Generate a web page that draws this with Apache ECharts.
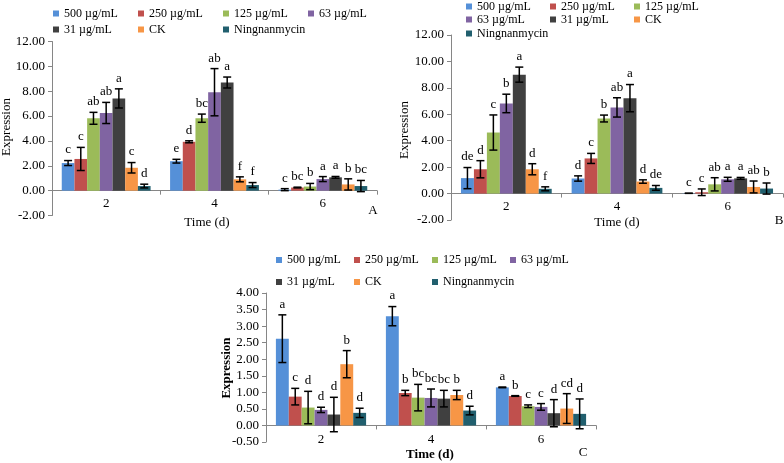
<!DOCTYPE html>
<html><head><meta charset="utf-8">
<script src="https://cdn.jsdelivr.net/npm/echarts@6/dist/echarts.min.js"></script>
<style>html,body{margin:0;padding:0;background:#fff}#c{width:784px;height:463px}</style>
</head><body><div id="c"></div>
<script>
// ---- data ----
const categories = ['2', '4', '6'];
const seriesNames = ['500 µg/mL', '250 µg/mL', '125 µg/mL', '63 µg/mL', '31 µg/mL', 'CK', 'Ningnanmycin'];
const colors = ['#5590D8', '#C0504D', '#9BBB59', '#8064A2', '#404040', '#F79646', '#215F6E'];

// Panel A: one row per series, values at day 2, 4, 6
const valuesA = [
  [2.22, 2.37, 0.08],
  [2.55, 3.93, 0.25],
  [5.82, 5.83, 0.33],
  [6.25, 7.92, 0.93],
  [7.42, 8.70, 1.07],
  [1.84, 0.91, 0.50],
  [0.37, 0.45, 0.37]
];
const errorsA = [
  [0.20, 0.15, 0.08],
  [0.93, 0.08, 0.03],
  [0.48, 0.33, 0.25],
  [0.85, 1.90, 0.20],
  [0.77, 0.44, 0.07],
  [0.42, 0.20, 0.45],
  [0.15, 0.20, 0.45]
];
const lettersA = [
  ['c', 'e', 'c'],
  ['c', 'd', 'bc'],
  ['ab', 'bc', 'b'],
  ['ab', 'ab', 'a'],
  ['a', 'a', 'a'],
  ['c', 'f', 'b'],
  ['d', 'f', 'bc']
];

// Panel B
const valuesB = [
  [1.17, 1.14, 0.02],
  [1.84, 2.66, 0.10],
  [4.62, 5.68, 0.70],
  [6.82, 6.52, 1.08],
  [9.00, 7.22, 1.15],
  [1.84, 0.91, 0.50],
  [0.36, 0.43, 0.38]
];
const errorsB = [
  [0.80, 0.20, 0.00],
  [0.65, 0.38, 0.25],
  [1.33, 0.26, 0.50],
  [0.70, 0.73, 0.15],
  [0.57, 1.03, 0.07],
  [0.42, 0.13, 0.45],
  [0.15, 0.18, 0.42]
];
const lettersB = [
  ['de', 'd', 'c'],
  ['d', 'c', 'c'],
  ['c', 'b', 'ab'],
  ['b', 'ab', 'a'],
  ['a', 'a', 'a'],
  ['d', 'd', 'ab'],
  ['f', 'de', 'b']
];

// Panel C
const valuesC = [
  [2.62, 3.30, 1.15],
  [0.87, 0.98, 0.89],
  [0.54, 0.84, 0.58],
  [0.47, 0.83, 0.56],
  [0.33, 0.81, 0.37],
  [1.85, 0.92, 0.51],
  [0.38, 0.45, 0.35]
];
const errorsC = [
  [0.72, 0.29, 0.01],
  [0.25, 0.08, 0.01],
  [0.49, 0.40, 0.04],
  [0.08, 0.27, 0.10],
  [0.52, 0.25, 0.41],
  [0.41, 0.14, 0.45],
  [0.14, 0.13, 0.45]
];
const lettersC = [
  ['a', 'a', 'a'],
  ['c', 'b', 'b'],
  ['d', 'bc', 'c'],
  ['d', 'bc', 'c'],
  ['d', 'bc', 'd'],
  ['b', 'b', 'cd'],
  ['d', 'd', 'd']
];

const yRangeAB = [-2, 12, 2];
const yRangeC = [-0.5, 4, 0.5];

// ---- chart ----
const FONT = '"Liberation Serif", "Times New Roman", serif';
const GAP = 0.18;
const series = [];

function addPanel(idx, vals, errs, lets) {
  vals.forEach((row, s) => {
    series.push({
      type: 'bar', name: seriesNames[s], xAxisIndex: idx, yAxisIndex: idx,
      data: row, barGap: '0%', barCategoryGap: (GAP * 100) + '%',
      itemStyle: { color: colors[s] }, silent: true
    });
  });
  const data = [];
  vals.forEach((row, s) => row.forEach((v, c) => data.push([c, s, v, errs[s][c]])));
  series.push({
    type: 'custom', name: 'err' + idx, xAxisIndex: idx, yAxisIndex: idx, z: 10,
    encode: { x: 0, y: 2 }, data: data, silent: true,
    renderItem: function (params, api) {
      const c = api.value(0), s = api.value(1), v = api.value(2), e = api.value(3);
      const band = api.size([1, 0])[0];
      const bw = band * (1 - GAP) / 7;
      const base = api.coord([c, v]);
      const x = base[0] + (s - 3) * bw;
      const yT = api.coord([c, v + e])[1];
      const yB = api.coord([c, v - e])[1];
      const st = { stroke: '#000', lineWidth: 1.5 };
      const cap = 4;
      return {
        type: 'group', children: [
          { type: 'line', shape: { x1: x, y1: yT, x2: x, y2: yB }, style: st },
          { type: 'line', shape: { x1: x - cap, y1: yT, x2: x + cap, y2: yT }, style: st },
          { type: 'line', shape: { x1: x - cap, y1: yB, x2: x + cap, y2: yB }, style: st },
          { type: 'text', style: { text: lets[s][c], x: x, y: yT - 4, align: 'center', verticalAlign: 'bottom',
              font: '13px ' + FONT, fill: '#000' } }
        ]
      };
    }
  });
}
addPanel(0, valuesA, errorsA, lettersA);
addPanel(1, valuesB, errorsB, lettersB);
addPanel(2, valuesC, errorsC, lettersC);

const axisLineStyle = { lineStyle: { color: '#868686', width: 1 } };
function xAxis(idx, margin) {
  return {
    type: 'category', gridIndex: idx, data: categories,
    axisLine: axisLineStyle, axisTick: { show: true, length: 4, lineStyle: { color: '#868686' } },
    axisLabel: { color: '#000', fontFamily: FONT, fontSize: 13, margin: margin }
  };
}
function yAxis(idx, r) {
  return {
    type: 'value', gridIndex: idx, min: r[0], max: r[1], interval: r[2],
    splitLine: { show: false },
    axisLine: Object.assign({ show: true }, axisLineStyle),
    axisTick: { show: true, length: 4, lineStyle: { color: '#868686' } },
    axisLabel: { color: '#000', fontFamily: FONT, fontSize: 13, margin: 7,
      formatter: v => v.toFixed(2) }
  };
}
function legend(names, left, top, w) {
  return {
    data: names, left: left, top: top, orient: 'horizontal', padding: 0,
    itemWidth: 6, itemHeight: 6, itemGap: 10, icon: 'rect', selectedMode: false,
    textStyle: { fontFamily: FONT, fontSize: 12, color: '#000', width: w, lineHeight: 13, overflow: 'none' }
  };
}
function txt(t, x, y, bold, rot) {
  return {
    type: 'text', x: x, y: y, rotation: rot ? Math.PI / 2 : 0, silent: true,
    style: { text: t, align: 'center', verticalAlign: 'middle', fill: '#000',
      font: (bold ? 'bold ' : '') + '13px ' + FONT }
  };
}

const option = {
  animation: false,
  backgroundColor: '#fff',
  grid: [
    { left: 52, top: 41.5, width: 325, height: 174 },
    { left: 451, top: 35, width: 332, height: 185 },
    { left: 266, top: 293, width: 330, height: 149 }
  ],
  xAxis: [xAxis(0, -18), xAxis(1, -20), xAxis(2, -9)],
  yAxis: [yAxis(0, yRangeAB), yAxis(1, yRangeAB), yAxis(2, yRangeC)],
  legend: [
    legend(seriesNames.slice(0, 4), 53, 7, 64),
    legend(seriesNames.slice(4), 53, 23, 64),
    legend(seriesNames.slice(0, 3), 466, 0, 63),
    legend(seriesNames.slice(3, 6), 466, 13, 63),
    legend(seriesNames.slice(6), 466, 27, 63),
    legend(seriesNames.slice(0, 4), 276, 253.5, 57),
    legend(seriesNames.slice(4), 276, 275.5, 57)
  ],
  graphic: [
    txt('Time (d)', 207, 223), txt('A', 373, 211), txt('Expression', 7, 127, false, true),
    txt('Time (d)', 617, 223), txt('B', 779, 221), txt('Expression', 405, 130, false, true),
    txt('Time (d)', 430, 455, true), txt('C', 583, 453), txt('Expression', 227, 368, true, true)
  ],
  series: series
};
echarts.init(document.getElementById('c'), null, { renderer: 'canvas' }).setOption(option);
</script>
</body></html>
